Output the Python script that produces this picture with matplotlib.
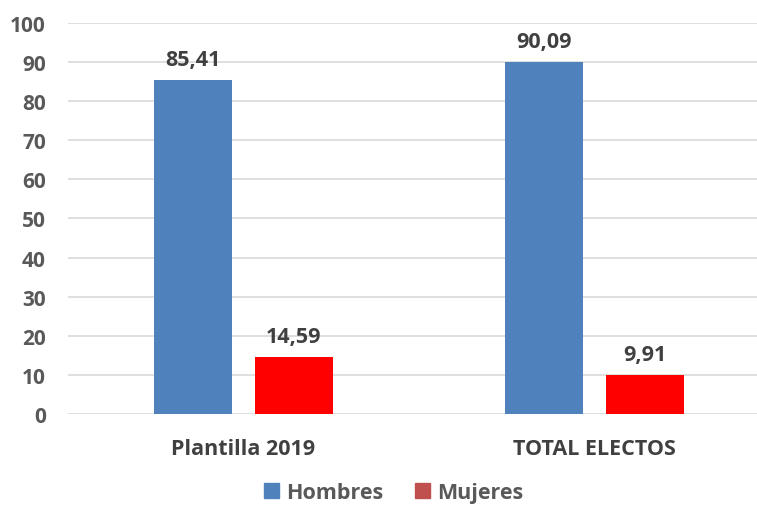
import matplotlib.pyplot as plt
import numpy as np

categories = ['Plantilla 2019', 'TOTAL ELECTOS']
hombres = [85.41, 90.09]
mujeres = [14.59, 9.91]
yticks = [0, 10, 20, 30, 40, 50, 60, 70, 80, 90, 100]

plt.rcParams['font.family'] = ['Open Sans', 'DejaVu Sans']
gray = '#595959'

fig = plt.figure(figsize=(7.57, 5.06), dpi=100)
ax = fig.add_axes([0.0898, 0.180, 0.9102, 0.7726])

x = np.arange(len(categories))
w = 0.223
b1 = ax.bar(x - 0.143, hombres, w, color='#4F81BD', label='Hombres', zorder=3)
b2 = ax.bar(x + 0.143, mujeres, w, color='#FF0000', label='Mujeres', zorder=3)

for bars, vals in ((b1, hombres), (b2, mujeres)):
    for r, v in zip(bars, vals):
        ax.annotate(f'{v:.2f}'.replace('.', ','), (r.get_x() + r.get_width() / 2, v),
                    xytext=(0, 7), textcoords='offset points', ha='center', va='bottom',
                    fontsize=15.5, fontweight='bold', color='#404040')

ax.set_xlim(-0.5, 1.463)
ax.set_ylim(0, 100)
ax.set_yticks(yticks)
ax.set_xticks(x)
ax.set_xticklabels(categories)
ax.grid(axis='y', color='#D9D9D9', linewidth=1.2, zorder=0)
for s in ax.spines.values():
    s.set_visible(False)
ax.tick_params(axis='y', length=0, labelsize=15, labelcolor=gray, pad=16)
ax.tick_params(axis='x', length=0, labelsize=15.5, labelcolor='#404040', pad=17)
for t in ax.get_xticklabels() + ax.get_yticklabels():
    t.set_fontweight('bold')

h1 = plt.Rectangle((0, 0), 1, 1, color='#4F81BD')
h2 = plt.Rectangle((0, 0), 1, 1, color='#C0504D')
leg = fig.legend([h1, h2], ['Hombres', 'Mujeres'], loc='center', bbox_to_anchor=(0.52, 0.024),
                 ncol=2, frameon=False, handlelength=0.7, handleheight=0.7,
                 handletextpad=0.3, columnspacing=1.5,
                 prop={'size': 15.5, 'weight': 'bold'})
for t in leg.get_texts():
    t.set_color(gray)

fig.savefig('out.png', dpi=100)
